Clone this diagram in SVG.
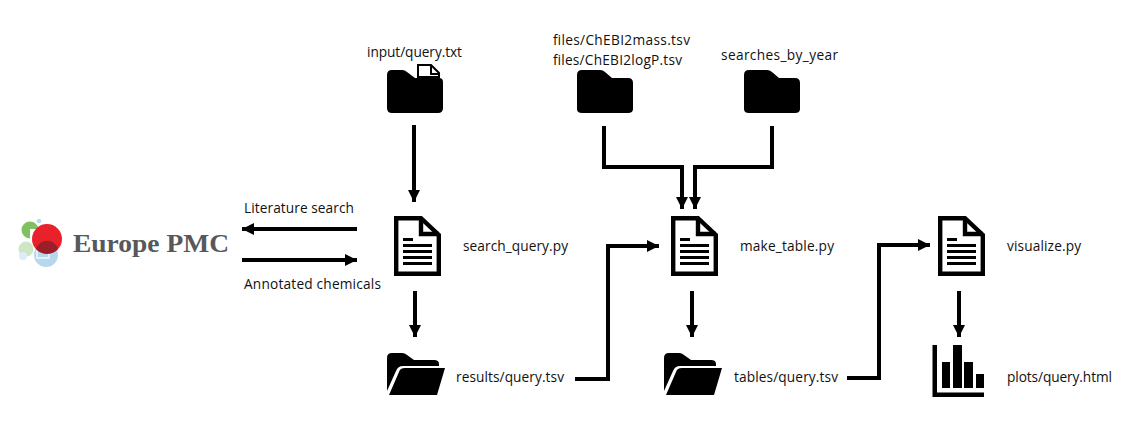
<svg xmlns="http://www.w3.org/2000/svg" width="1140" height="433" viewBox="0 0 1140 433">
<style>
text{font-family:"Open Sans","Noto Sans","Liberation Sans",sans-serif;font-size:13.7px;fill:#111}
.c{fill:none;stroke:#000;stroke-width:4}
</style>
<defs>
<marker id="a" markerUnits="userSpaceOnUse" markerWidth="12" markerHeight="12" refX="12" refY="6" orient="auto"><path d="M0 0L12 6L0 12Z"/></marker>
<g id="doc">
<path d="M2.200 2.200H27L44.800 19V57.800H2.200Z" fill="#fff" stroke="#000" stroke-width="4.400"/>
<path d="M27 2V18H45" fill="none" stroke="#000" stroke-width="4.400"/>
<path d="M9 23.500H19M9 29.500H38M9 35.500H38M9 41.500H38M9 47.500H38" stroke="#000" stroke-width="3"/>
</g>
<path id="fold" d="M0 5Q0 0 5 0H23Q26 0 28 2L35 8H51Q56 8 56 13V39Q56 43 51 43H5Q0 43 0 39Z"/>
<g id="open">
<path d="M0 5Q0 0 5 0H15Q18 0 20 2L27 7H47Q52 7 52 11V13H16Q11 13 9 18L0 38Z"/>
<path d="M2 42L12 19Q13 15 18 15H58L50 42Z"/>
</g>
</defs>
<g id="connectors">
<path class="c" d="M414 125V202" marker-end="url(#a)"/>
<path class="c" d="M357 229H242" marker-end="url(#a)"/>
<path class="c" d="M242 260H357" marker-end="url(#a)"/>
<path class="c" d="M415 291V337" marker-end="url(#a)"/>
<path class="c" d="M604 126V167H682V209" marker-end="url(#a)"/>
<path class="c" d="M772 126V167H695V209" marker-end="url(#a)"/>
<path class="c" d="M575 379H608V246H659" marker-end="url(#a)"/>
<path class="c" d="M692 291V337" marker-end="url(#a)"/>
<path class="c" d="M847 378H879V245H930" marker-end="url(#a)"/>
<path class="c" d="M959 291V337" marker-end="url(#a)"/>
</g>
<g id="europe-pmc">
<circle cx="30" cy="230" r="8.500" fill="#7fc15f"/>
<rect x="30" y="229" width="10" height="10" fill="#fff"/>
<circle cx="39" cy="221" r="2.300" fill="#b9d9ee"/>
<circle cx="26" cy="249" r="7.500" fill="#cfe6c4"/>
<circle cx="23" cy="256" r="4" fill="#deecf6"/>
<circle cx="46" cy="255" r="12" fill="#b5d8ef"/>
<rect x="37" y="246" width="12" height="12" fill="none" stroke="#e4f1fa" stroke-width="2"/>
<circle cx="47" cy="239" r="15" fill="#e9212b"/>
<path d="M36 249A15 15 0 0 0 58 249A11.500 11.500 0 0 0 36 249Z" fill="#9b1f28"/>
<text x="73" y="251.500" textLength="156" lengthAdjust="spacingAndGlyphs" style="font-family:'Liberation Serif','DejaVu Serif',serif;font-size:26px;font-weight:700;fill:#58585a">Europe PMC</text>
</g>
<g id="input"><text x="367" y="56.500" textLength="95">input/query.txt</text>
<path d="M418 77V65H431L439 73V77Z" fill="#fff" stroke="#000" stroke-width="2"/>
<path d="M431 65V74H439" fill="none" stroke="#000" stroke-width="2"/>
<path d="M387 75Q387 70 392 70H402Q405 70 407 72L415 78H439Q443 78 443 82V108Q443 113 438 113H392Q387 113 387 108Z"/></g>
<g id="files"><text x="553" y="44.500" textLength="137">files/ChEBI2mass.tsv</text><text x="553" y="64.500" textLength="129">files/ChEBI2logP.tsv</text><use href="#fold" x="577" y="70"/></g>
<g id="searches"><text x="721" y="60" textLength="117">searches_by_year</text><use href="#fold" x="744" y="70"/></g>
<g id="search_query"><use href="#doc" x="394" y="216"/><text x="463" y="251" textLength="105">search_query.py</text></g>
<g id="make_table"><use href="#doc" x="671" y="216"/><text x="740" y="251" textLength="94">make_table.py</text></g>
<g id="visualize"><use href="#doc" x="938" y="216"/><text x="1007" y="251" textLength="74">visualize.py</text></g>
<g id="results"><use href="#open" x="387" y="353"/><text x="456" y="382" textLength="108">results/query.tsv</text></g>
<g id="tables"><use href="#open" x="664" y="353"/><text x="734" y="382" textLength="104">tables/query.tsv</text></g>
<g id="plots"><path d="M932.500 345H937V392.500H984V397H932.500ZM942 362H950V388H942ZM953 345H962V388H953ZM964 362H973V388H964ZM976 374H984V388H976Z"/><text x="1007" y="382" textLength="105">plots/query.html</text></g>
<g id="labels"><text x="244" y="213" textLength="110">Literature search</text><text x="244" y="289" textLength="137">Annotated chemicals</text></g>
</svg>
